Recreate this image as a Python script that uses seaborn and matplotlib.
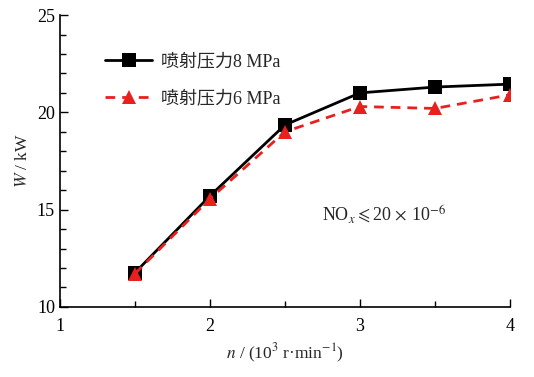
import matplotlib
matplotlib.use("Agg")
import matplotlib.pyplot as plt
import seaborn as sns
import pandas as pd
from matplotlib.ticker import MultipleLocator

speed = [1.5, 2.0, 2.5, 3.0, 3.5, 4.0]
power_8mpa = [11.75, 15.7, 19.35, 21.0, 21.3, 21.45]
power_6mpa = [11.7, 15.55, 19.0, 20.3, 20.2, 20.9]
label_8 = "喷射压力8 MPa"
label_6 = "喷射压力6 MPa"

sns.set_theme(style="ticks")
plt.rcParams['font.family'] = ['Liberation Serif', 'Noto Sans CJK SC']
plt.rcParams['mathtext.fontset'] = 'stix'

df = pd.concat([
    pd.DataFrame({"n": speed, "W": power_8mpa, "s": label_8}),
    pd.DataFrame({"n": speed, "W": power_6mpa, "s": label_6}),
])

fig = plt.figure(figsize=(5.34, 3.77), dpi=100)
ax = fig.add_axes([0.112, 0.186, 0.843, 0.774])

sns.lineplot(data=df[df.s == label_8], x="n", y="W", ax=ax, color="black",
             marker="s", markersize=9.5, linewidth=2, markeredgewidth=0,
             label=label_8)
sns.lineplot(data=df[df.s == label_6], x="n", y="W", ax=ax, color="#e8201e",
             marker="^", markersize=10.5, linewidth=2, markeredgewidth=0,
             linestyle=(0, (3.5, 2.5)), label=label_6)

ax.set_xlim(1, 4)
ax.set_ylim(10, 25)
ax.xaxis.set_major_locator(MultipleLocator(1))
ax.xaxis.set_minor_locator(MultipleLocator(0.5))
ax.yaxis.set_major_locator(MultipleLocator(5))
ax.yaxis.set_minor_locator(MultipleLocator(1))
ax.tick_params(which="both", direction="in", width=1, labelsize=13, colors="black")
ax.tick_params(which="major", length=6)
ax.tick_params(which="minor", length=4)
ax.tick_params(axis="x", pad=8)
for sp in ["top", "right"]:
    ax.spines[sp].set_visible(False)
for sp in ["left", "bottom"]:
    ax.spines[sp].set_linewidth(1.2)
    ax.spines[sp].set_color("black")

ax.set_xlabel(r"$\it{n}$ / (10$^{3}$ r·min$^{-1}$)", fontsize=12.5, labelpad=5)
ax.set_ylabel(r"$\it{W}$ / kW", fontsize=12.5, labelpad=4)

ax.text(3.16, 14.75, r"NO$_{x}$$\leqslant$20$\,\times\,$10$^{-6}$", fontsize=13,
        ha="center", va="center")

leg = ax.legend(loc="upper left", bbox_to_anchor=(0.065, 0.925), frameon=False,
                fontsize=13, handlelength=2.6, handletextpad=0.5, labelspacing=1.1)

fig.savefig("out.png", dpi=100)
